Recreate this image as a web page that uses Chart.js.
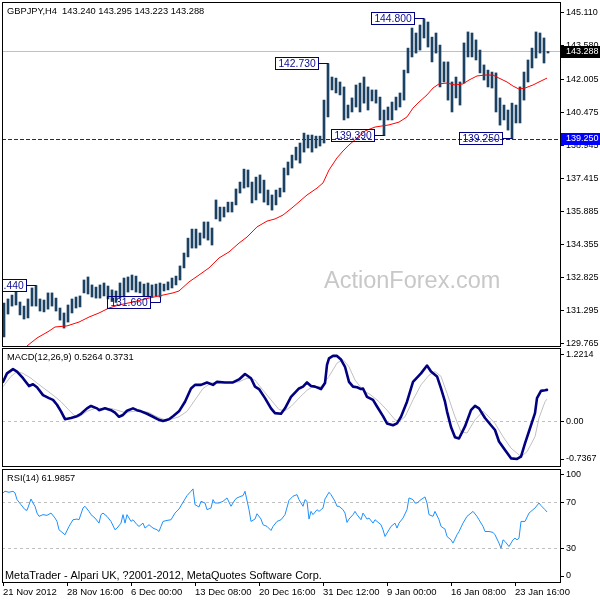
<!DOCTYPE html>
<html>
<head>
<meta charset="utf-8">
<title>GBPJPY H4</title>
<script src="https://cdn.jsdelivr.net/npm/chart.js@4.4.1/dist/chart.umd.min.js"></script>
<style>
  body { margin: 0; background: #fff; }
  #wrap { position: relative; width: 600px; height: 600px; overflow: hidden; }
  .pane { position: absolute; left: 0; }
</style>
</head>
<body>
<div id="wrap">
<canvas id="mainPane" class="pane" width="600" height="368" style="top:-8px"></canvas>
<canvas id="macdPane" class="pane" width="600" height="140" style="top:340px"></canvas>
<canvas id="rsiPane" class="pane" width="600" height="140" style="top:460px"></canvas>
</div>
<script>
var FONT = "'Liberation Sans', Arial, sans-serif";

// x axis is counted in H4 bars, each price bar below covers two of them
var X_MIN = -0.5, X_MAX = 278.5;

var symbol = 'GBPJPY,H4';
var lastOhlc = [143.240, 143.295, 143.223, 143.288];
var supportLevel = 139.250;

var barHigh = [
  131.63, 131.82, 132.00, 132.14, 131.68, 131.49, 131.82, 132.33, 132.44, 131.82,
  131.77, 132.10, 132.10, 131.86, 131.40, 131.17, 131.54, 131.82, 131.91, 131.96,
  132.70, 132.84, 132.47, 132.37, 132.47, 132.56, 132.42, 132.24, 132.19, 132.56,
  132.79, 132.84, 132.93, 132.88, 132.61, 132.51, 132.56, 132.47, 132.51, 132.56,
  132.51, 132.61, 132.79, 132.88, 133.35, 133.95, 134.64, 135.06, 135.06, 134.88,
  135.39, 135.39, 135.11, 136.41, 136.08, 136.08, 136.31, 136.31, 136.92, 137.24,
  137.84, 137.80, 137.24, 137.47, 137.57, 137.33, 136.87, 136.64, 136.87, 136.96,
  137.89, 138.17, 138.49, 138.86, 139.05, 139.51, 139.42, 139.42, 139.37, 139.37,
  141.04, 142.73, 142.11, 142.06, 141.88, 141.65, 140.81, 141.14, 141.74, 141.83,
  142.11, 141.65, 141.51, 141.51, 141.18, 140.58, 140.72, 140.95, 141.18, 141.37,
  142.43, 143.45, 144.38, 144.15, 144.52, 144.80, 144.66, 143.96, 144.15, 143.59,
  142.81, 142.81, 141.88, 142.11, 141.88, 143.69, 144.20, 144.15, 143.83, 143.36,
  142.67, 142.43, 142.34, 142.30, 141.14, 140.81, 140.58, 140.90, 140.81, 141.65,
  142.34, 142.90, 143.45, 144.20, 144.15, 143.92, 143.295
];
var barLow = [
  130.06, 131.12, 131.49, 131.54, 131.08, 130.89, 130.94, 131.49, 131.49, 131.26,
  131.22, 131.35, 131.49, 131.26, 130.84, 130.47, 130.75, 131.17, 131.40, 131.45,
  132.10, 132.05, 131.91, 131.86, 131.86, 131.96, 131.82, 131.70, 131.66, 131.86,
  131.91, 132.14, 132.24, 132.14, 132.10, 131.96, 131.91, 131.91, 131.96, 131.91,
  132.19, 132.24, 132.33, 132.47, 132.70, 133.26, 133.77, 134.18, 134.18, 134.32,
  134.64, 134.55, 134.32, 135.53, 135.43, 135.62, 135.85, 135.85, 136.18, 136.73,
  136.96, 137.01, 136.27, 136.41, 136.73, 136.31, 136.18, 135.94, 136.18, 136.55,
  136.78, 137.57, 137.89, 138.26, 138.12, 138.63, 138.82, 138.63, 138.82, 138.91,
  139.05, 140.26, 141.51, 141.37, 141.28, 140.12, 140.21, 140.49, 140.72, 140.49,
  140.90, 140.58, 141.00, 140.90, 140.12, 139.39, 140.12, 140.12, 140.58, 140.72,
  141.04, 142.30, 143.04, 143.22, 143.36, 143.92, 143.50, 142.81, 143.22, 141.65,
  141.88, 141.04, 140.49, 141.14, 140.81, 141.83, 143.04, 143.04, 142.90, 142.30,
  141.97, 141.65, 141.60, 140.49, 139.88, 140.12, 139.65, 139.25, 139.98, 139.98,
  141.04, 141.88, 142.53, 142.99, 143.22, 142.76, 143.223
];

// moving average (red)
var maBar = [12, 17, 23, 26, 32, 38, 43, 48, 53, 58,
  65, 73, 78, 85, 88, 93, 98, 103, 108, 113,
  118, 122, 127, 132, 136, 140, 145, 152, 157, 160,
  163, 167, 170, 173, 177, 181, 186, 193, 198, 202,
  205, 208, 212, 215, 218, 222, 226, 230, 233, 237,
  241, 245, 248, 252, 255, 258, 261, 265, 268, 272];
var maPrice = [129.64, 130.01, 130.33, 130.52, 130.57, 130.75, 130.98, 131.17, 131.40, 131.54,
  131.68, 131.86, 131.96, 132.10, 132.19, 132.61, 132.93, 133.26, 133.72, 134.00,
  134.41, 134.69, 135.16, 135.43, 135.53, 135.71, 136.08, 136.64, 136.96, 137.20,
  137.80, 138.36, 138.68, 138.96, 139.28, 139.61, 139.79, 139.89, 140.02, 140.26,
  140.67, 140.95, 141.28, 141.60, 141.79, 141.83, 141.74, 141.79, 141.97, 142.16,
  142.20, 142.20, 142.06, 141.88, 141.69, 141.55, 141.60, 141.74, 141.88, 142.06];

// swing labels: bar (price-bar index) and price
var noteBar = [8, 39, 81, 95, 105, 127];
var notePrice = [132.440, 131.660, 142.730, 139.390, 144.800, 139.250];

var priceMin = 129.639, priceMax = 145.588;
var priceTickLabels = ['129.765', '131.295', '132.825', '134.355', '135.885', '137.415',
  '138.945', '140.475', '142.005', '143.580', '145.110'];
var priceTicks = priceTickLabels.map(Number);

// MACD(12,26,9)
var macdBar = [0, 2, 5, 7, 10, 13, 15, 17, 20, 23,
  25, 27, 29, 31, 34, 37, 39, 42, 44, 47,
  48, 51, 54, 56, 58, 60, 62, 65, 67, 69,
  72, 75, 78, 80, 83, 85, 88, 91, 94, 96,
  99, 102, 105, 107, 111, 115, 118, 121, 124, 126,
  128, 131, 134, 136, 139, 141, 144, 148, 150, 152,
  154, 156, 159, 161, 162, 163, 165, 167, 169, 171,
  173, 175, 177, 179, 180, 182, 185, 187, 190, 192,
  195, 197, 199, 202, 205, 209, 212, 214, 217, 219,
  221, 222, 224, 226, 228, 231, 234, 236, 238, 241,
  244, 246, 248, 251, 254, 257, 259, 261, 264, 266,
  267, 269, 271, 272];
var macdMain = [0.66, 0.80, 0.87, 0.83, 0.72, 0.59, 0.62, 0.57, 0.44, 0.39,
  0.36, 0.28, 0.17, 0.04, 0.06, 0.09, 0.13, 0.22, 0.26, 0.22,
  0.19, 0.22, 0.19, 0.15, 0.08, 0.11, 0.18, 0.22, 0.19, 0.17,
  0.13, 0.08, 0.03, 0.01, 0.04, 0.09, 0.17, 0.33, 0.55, 0.61,
  0.61, 0.65, 0.61, 0.66, 0.65, 0.65, 0.70, 0.79, 0.72, 0.58,
  0.54, 0.39, 0.22, 0.14, 0.13, 0.22, 0.41, 0.55, 0.58, 0.65,
  0.59, 0.58, 0.54, 0.64, 0.94, 1.05, 1.09, 1.09, 1.03, 0.91,
  0.66, 0.58, 0.57, 0.54, 0.55, 0.41, 0.36, 0.25, 0.09, -0.03,
  -0.06, -0.03, 0.08, 0.33, 0.66, 0.80, 0.93, 0.83, 0.75, 0.55,
  0.33, 0.17, -0.09, -0.26, -0.28, -0.08, 0.19, 0.26, 0.22, 0.06,
  -0.06, -0.14, -0.33, -0.47, -0.61, -0.62, -0.58, -0.36, -0.06, 0.14,
  0.39, 0.51, 0.52, 0.5264];
var sigBar = [0, 4, 7, 10, 14, 17, 21, 25, 29, 33,
  36, 38, 42, 46, 50, 54, 58, 61, 65, 69,
  73, 77, 81, 84, 88, 92, 96, 100, 104, 107,
  113, 118, 122, 126, 130, 134, 138, 141, 144, 148,
  152, 155, 159, 163, 167, 170, 173, 176, 180, 184,
  188, 192, 196, 198, 201, 205, 209, 213, 216, 219,
  222, 226, 229, 232, 236, 240, 242, 246, 250, 254,
  259, 262, 266, 268, 271, 272];
var macdSignal = [0.58, 0.75, 0.83, 0.80, 0.72, 0.64, 0.54, 0.44, 0.33, 0.19,
  0.09, 0.08, 0.17, 0.22, 0.22, 0.22, 0.18, 0.15, 0.17, 0.18,
  0.15, 0.08, 0.03, 0.04, 0.08, 0.17, 0.36, 0.55, 0.64, 0.65,
  0.65, 0.66, 0.72, 0.69, 0.52, 0.36, 0.20, 0.18, 0.25, 0.39,
  0.52, 0.58, 0.58, 0.75, 0.97, 1.03, 0.91, 0.69, 0.52, 0.44,
  0.33, 0.19, 0.03, 0.00, 0.08, 0.36, 0.61, 0.77, 0.83, 0.75,
  0.47, 0.08, -0.17, -0.19, 0.03, 0.17, 0.11, -0.03, -0.25, -0.44,
  -0.58, -0.50, -0.25, 0.06, 0.33, 0.3731];
var macdRange = [-0.7367, 1.2214];
var macdTickLabels = ['-0.7367', '0.00', '1.2214'];

// RSI(14)
var rsiBar = [0, 1, 3, 5, 6, 7, 9, 11, 12, 14,
  15, 16, 17, 18, 20, 22, 24, 26, 27, 28,
  30, 31, 33, 35, 37, 38, 40, 41, 43, 44,
  46, 48, 49, 50, 52, 54, 56, 57, 59, 60,
  61, 62, 64, 65, 67, 68, 70, 71, 73, 75,
  77, 78, 79, 80, 82, 84, 86, 88, 90, 92,
  94, 95, 96, 98, 99, 101, 102, 104, 105, 106,
  108, 110, 112, 114, 116, 117, 119, 120, 121, 123,
  124, 126, 127, 129, 130, 132, 134, 135, 137, 139,
  141, 143, 145, 147, 148, 150, 151, 152, 153, 154,
  155, 157, 158, 160, 161, 163, 164, 166, 167, 168,
  170, 171, 172, 173, 175, 176, 177, 179, 180, 182,
  183, 185, 186, 187, 189, 190, 191, 193, 194, 196,
  197, 198, 200, 202, 203, 205, 206, 207, 209, 211,
  212, 213, 215, 216, 218, 219, 221, 222, 224, 225,
  227, 228, 230, 232, 234, 235, 237, 238, 240, 241,
  243, 245, 246, 248, 249, 250, 251, 253, 255, 256,
  257, 258, 259, 261, 263, 265, 266, 268, 269, 271,
  272];
var rsiValue = [78.8, 80.3, 79.4, 80.3, 78.8, 72.9, 68.4, 64.0, 63.4, 73.5,
  69.9, 67.0, 61.0, 58.1, 59.6, 59.0, 61.0, 56.6, 53.6, 46.2,
  43.3, 41.8, 49.2, 55.1, 55.7, 55.1, 65.5, 67.0, 62.5, 59.6,
  56.6, 52.1, 59.6, 61.0, 58.1, 53.6, 46.2, 47.7, 52.1, 59.6,
  52.1, 59.6, 53.6, 55.1, 50.7, 49.2, 52.1, 47.7, 50.7, 47.7,
  46.2, 44.7, 49.2, 53.6, 54.5, 55.1, 61.0, 64.6, 70.5, 76.4,
  80.3, 82.4, 68.4, 66.4, 71.4, 69.9, 64.0, 65.5, 72.9, 69.9,
  69.9, 71.4, 74.4, 67.0, 72.9, 74.4, 75.9, 76.4, 80.3, 64.0,
  53.6, 55.7, 60.4, 55.7, 50.7, 49.2, 45.6, 49.2, 53.6, 55.1,
  59.6, 72.3, 75.9, 77.3, 72.9, 67.0, 72.9, 71.4, 55.7, 62.5,
  59.6, 64.0, 62.5, 65.5, 73.5, 79.4, 77.3, 71.4, 67.0, 67.0,
  64.0, 61.0, 52.7, 55.7, 59.6, 62.5, 59.6, 55.1, 61.0, 55.7,
  56.6, 52.1, 55.1, 53.6, 50.7, 46.2, 40.3, 46.2, 49.2, 52.1,
  47.7, 52.1, 56.6, 64.0, 74.4, 72.9, 69.9, 69.9, 72.9, 75.3,
  69.9, 59.6, 58.1, 62.5, 55.1, 49.2, 46.8, 40.3, 37.3, 34.4,
  41.8, 44.7, 52.1, 58.1, 61.0, 62.5, 58.1, 55.1, 49.2, 44.7,
  44.7, 43.9, 41.8, 34.4, 29.9, 37.3, 35.9, 31.4, 37.3, 38.8,
  37.3, 38.8, 53.6, 53.6, 61.0, 64.0, 65.5, 69.9, 67.6, 64.0,
  61.9857];
var rsiTickValues = [0, 30, 70, 100];
var rsiLevels = [30, 70];

var timeTickBars = [0, 32, 64, 96, 128, 160, 192, 224, 256];
var timeLabels = ['21 Nov 2012', '28 Nov 16:00', '6 Dec 00:00', '13 Dec 08:00', '20 Dec 16:00',
  '31 Dec 12:00', '9 Jan 00:00', '16 Jan 08:00', '23 Jan 16:00'];

function pts(xs, ys) {
  return xs.map(function (x, i) { return { x: x, y: ys[i] }; });
}

function paneFrame(chart) {
  var a = chart.chartArea, ctx = chart.ctx;
  ctx.save();
  ctx.strokeStyle = '#000';
  ctx.lineWidth = 1;
  ctx.strokeRect(a.left + 0.5, a.top + 0.5, a.right - a.left, a.bottom - a.top);
  ctx.restore();
}

function paneText(ctx, str, x, y, size, color) {
  ctx.save();
  ctx.font = size + 'px ' + FONT;
  ctx.fillStyle = color || '#000';
  ctx.textAlign = 'left';
  ctx.textBaseline = 'middle';
  ctx.fillText(str, x, y);
  ctx.restore();
}

function rightAxis(min, max, tickPos, labels, gridColor, dash) {
  return {
    position: 'right', min: min, max: max,
    afterFit: function (s) { s.width = 40; },
    afterBuildTicks: function (s) { s.ticks = tickPos.map(function (v) { return { value: v }; }); },
    ticks: {
      autoSkip: false, padding: 2, color: '#000',
      font: { family: FONT, size: 9 },
      callback: function (v, i) { return labels[i]; }
    },
    grid: { drawOnChartArea: !!gridColor, color: gridColor || '#000', tickColor: '#000', tickLength: 4 },
    border: { color: '#000', dash: dash || [] }
  };
}

var baseOpts = {
  responsive: false, animation: false, devicePixelRatio: 1, events: [],
  plugins: { legend: { display: false }, tooltip: { enabled: false } }
};

// ---------- price pane (canvas starts 8px above the page) ----------
var mainOverlay = {
  id: 'mainOverlay',
  beforeDatasetsDraw: function (chart) {
    var ctx = chart.ctx, a = chart.chartArea, y = chart.scales.y;
    ctx.save();
    ctx.beginPath();
    ctx.rect(a.left, a.top, a.right - a.left, a.bottom - a.top);
    ctx.clip();
    ctx.font = '23.5px ' + FONT;
    ctx.fillStyle = '#c8c8c8';
    ctx.fillText('ActionForex.com', 324, 296);
    ctx.lineWidth = 1;
    var yb = Math.floor(y.getPixelForValue(lastOhlc[3])) + 0.5;
    ctx.strokeStyle = '#c0c0c0';
    ctx.beginPath(); ctx.moveTo(a.left, yb); ctx.lineTo(a.right, yb); ctx.stroke();
    var ys = Math.round(y.getPixelForValue(supportLevel)) + 0.5;
    ctx.strokeStyle = '#1a1acc';
    ctx.setLineDash([4, 2]);
    ctx.beginPath(); ctx.moveTo(a.left, ys); ctx.lineTo(a.right, ys); ctx.stroke();
    ctx.restore();
  },
  afterDatasetsDraw: function (chart) {
    var ctx = chart.ctx, a = chart.chartArea, x = chart.scales.x, y = chart.scales.y;
    ctx.save();
    ctx.beginPath();
    ctx.rect(a.left, a.top, a.right - a.left, a.bottom - a.top);
    ctx.clip();
    ctx.lineWidth = 1;
    ctx.font = '10.3px ' + FONT;
    ctx.textAlign = 'center';
    ctx.textBaseline = 'middle';
    noteBar.forEach(function (j, i) {
      var bx = Math.round(x.getPixelForValue(2 * j + 0.5)) + 0.5;
      var py = Math.floor(y.getPixelForValue(notePrice[i])) + 0.5;
      var w = 43, h = 12;
      var rx = bx - 10;
      ctx.strokeStyle = '#000080';
      ctx.strokeRect(rx - w, py - h / 2, w, h);
      ctx.fillStyle = '#0c0c90';
      ctx.fillText(notePrice[i].toFixed(3), rx - w / 2, py + 0.5);
      ctx.beginPath();
      ctx.moveTo(rx, py);
      ctx.lineTo(bx, py);
      if (notePrice[i] < barLow[j]) ctx.lineTo(bx, y.getPixelForValue(barLow[j]));
      if (notePrice[i] > barHigh[j]) ctx.lineTo(bx, y.getPixelForValue(barHigh[j]));
      ctx.stroke();
    });
    ctx.restore();
  },
  afterDraw: function (chart) {
    var ctx = chart.ctx, a = chart.chartArea, y = chart.scales.y;
    paneFrame(chart);
    paneText(ctx, symbol + '  ' + lastOhlc.map(function (v) { return v.toFixed(3); }).join(' '), 7, a.top + 9, 9.3);
    [[lastOhlc[3], '#000000'], [supportLevel, '#0000ff']].forEach(function (m) {
      var py = y.getPixelForValue(m[0]);
      ctx.fillStyle = m[1];
      ctx.fillRect(a.right + 1, Math.round(py) - 6, 40, 12);
      paneText(ctx, m[0].toFixed(3), a.right + 6, py, 9, '#ffffff');
    });
  }
};

new Chart(document.getElementById('mainPane'), {
  type: 'bar',
  data: {
    datasets: [
      { type: 'line', data: pts(maBar, maPrice), borderColor: '#ff0000', borderWidth: 1, pointRadius: 0, order: 1 },
      {
        type: 'bar', order: 2, grouped: false, barThickness: 2, backgroundColor: '#1b4262',
        data: barHigh.map(function (h, j) { return { x: 2 * j + 0.5, y: [barLow[j], h] }; })
      }
    ]
  },
  options: Object.assign({}, baseOpts, {
    layout: { padding: { left: 2, top: 10, right: 0, bottom: 14 } },
    scales: {
      x: { type: 'linear', min: X_MIN, max: X_MAX, offset: false, display: false },
      y: rightAxis(priceMin, priceMax, priceTicks, priceTickLabels)
    }
  }),
  plugins: [mainOverlay]
});

// ---------- MACD pane ----------
var macdInset = 7 * (macdRange[1] - macdRange[0]) / 118;
new Chart(document.getElementById('macdPane'), {
  type: 'line',
  data: {
    datasets: [
      { data: pts(macdBar, macdMain), borderColor: '#000080', borderWidth: 2.6, borderJoinStyle: 'round', borderCapStyle: 'round', pointRadius: 0, order: 1 },
      { data: pts(sigBar, macdSignal), borderColor: '#c0c0c0', borderWidth: 1, pointRadius: 0, order: 2 }
    ]
  },
  options: Object.assign({}, baseOpts, {
    layout: { padding: { left: 2, top: 8, right: 0, bottom: 14 } },
    scales: {
      x: { type: 'linear', min: X_MIN, max: X_MAX, display: false },
      y: rightAxis(macdRange[0], macdRange[1], [macdRange[0] + macdInset, 0, macdRange[1] - macdInset], macdTickLabels,
        function (c) { return c.tick && c.tick.value === 0 ? '#c0c0c0' : 'rgba(0,0,0,0)'; }, [3, 3])
    }
  }),
  plugins: [{
    id: 'macdOverlay',
    afterDraw: function (chart) {
      paneFrame(chart);
      paneText(chart.ctx, 'MACD(12,26,9) ' + macdMain[macdMain.length - 1].toFixed(4) + ' ' +
        macdSignal[macdSignal.length - 1].toFixed(4), 7, 17.5, 9.3);
    }
  }]
});

// ---------- RSI pane ----------
var rsiInset = 6 / 1.13;
var rsiTickPos = rsiTickValues.map(function (v) {
  return v === 0 ? v + rsiInset : (v === 100 ? v - rsiInset : v);
});
var rsiY = rightAxis(0, 100, rsiTickPos, rsiTickValues.map(String),
  function (c) { return c.tick && rsiLevels.indexOf(c.tick.value) >= 0 ? '#c0c0c0' : 'rgba(0,0,0,0)'; }, [3, 3]);

new Chart(document.getElementById('rsiPane'), {
  type: 'line',
  data: {
    datasets: [
      { data: pts(rsiBar, rsiValue), borderColor: '#1e90ff', borderWidth: 1, pointRadius: 0 }
    ]
  },
  options: Object.assign({}, baseOpts, {
    layout: { padding: { left: 2, top: 9, right: 0, bottom: 0 } },
    scales: {
      x: {
        type: 'linear', min: X_MIN, max: X_MAX, position: 'bottom',
        afterFit: function (s) { s.height = 18; },
        afterBuildTicks: function (s) { s.ticks = timeTickBars.map(function (v) { return { value: v }; }); },
        ticks: {
          autoSkip: false, maxRotation: 0, minRotation: 0, align: 'start', padding: 1, color: '#000',
          font: { family: FONT, size: 9.5 },
          callback: function (v, i) { return timeLabels[i]; }
        },
        grid: { drawOnChartArea: false, tickLength: 4, color: '#000' },
        border: { color: '#000' }
      },
      y: rsiY
    }
  }),
  plugins: [{
    id: 'rsiOverlay',
    afterDraw: function (chart) {
      paneFrame(chart);
      paneText(chart.ctx, 'RSI(14) ' + rsiValue[rsiValue.length - 1].toFixed(4), 7, 18, 9.3);
      paneText(chart.ctx, 'MetaTrader - Alpari UK, ?2001-2012, MetaQuotes Software Corp.', 5, 116, 10.9);
    }
  }]
});
</script>
</body>
</html>
